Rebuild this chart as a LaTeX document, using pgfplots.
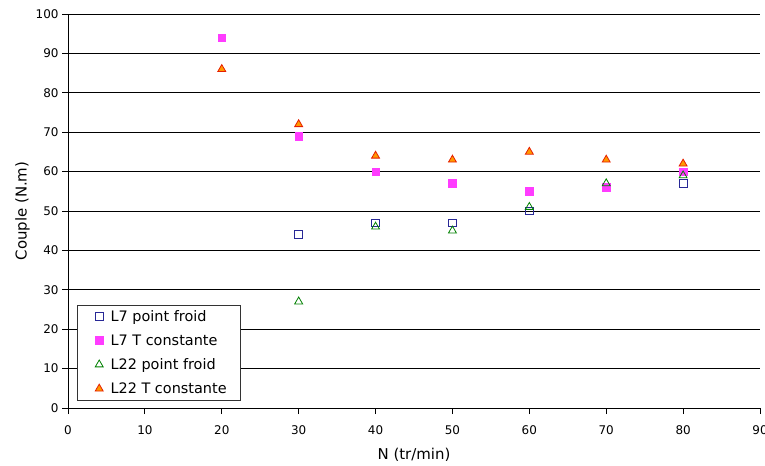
\documentclass[border=0pt]{standalone}
\usepackage{fontspec}
\setmainfont{DejaVu Sans}
\usepackage{pgfplots}
\pgfplotsset{compat=1.18}
\definecolor{cblue}{RGB}{40,40,150}
\definecolor{cpink}{RGB}{255,60,255}
\definecolor{cgreen}{RGB}{0,128,0}
\definecolor{corange}{RGB}{255,153,0}
\definecolor{cred}{RGB}{230,30,0}
\pgfplotsset{mylegimg/.style={legend image code/.code={\path[draw=none,fill=none] (0cm,-0.1cm) rectangle (0.68cm,0.1cm); \draw[mark repeat=2,mark phase=2,##1] plot coordinates {(0cm,0cm)(0.35cm,0cm)(0.68cm,0cm)};}}}
\begin{document}
\begin{tikzpicture}
\begin{axis}[
  scale only axis, width=692bp, height=394bp,
  xmin=0, xmax=90, ymin=0, ymax=100,
  xtick={0,10,...,90}, ytick={0,10,...,100},
  axis x line*=bottom, axis y line*=left,
  axis line style={black, line width=0.8pt, -},
  ymajorgrids, grid style={black, line width=0.7pt},
  tick align=outside, major tick length=6bp,
  tick style={black, line width=0.8pt},
  ticklabel style={font=\fontsize{12}{14}\selectfont},
  xticklabel style={yshift=-8bp},
  /pgf/number format/assume math mode=true,
  xlabel={N (tr/min)}, ylabel={Couple (N.m)},
  label style={font=\fontsize{15}{17}\selectfont},
  xlabel style={yshift=-7bp},
  ylabel style={yshift=-1bp},
  legend style={at={(rel axis cs:0.013,0.02)}, anchor=south west,
    draw=black!80, line width=0.6pt, font=\fontsize{14.5}{17}\selectfont,
    inner xsep=12bp, inner ysep=3bp, row sep=7.8bp},
  legend cell align=left,
]
\addplot[only marks, mylegimg, mark=square, mark size=3.8pt, mark options={draw=cblue, line width=0.8pt}]
 coordinates {(30,44) (40,47) (50,47) (60,50) (70,56) (80,57)};
\addlegendentry{L7 point froid}
\addplot[only marks, mylegimg, mark=square*, mark size=3.8pt, mark options={draw=cpink, fill=cpink}]
 coordinates {(20,94) (30,69) (40,60) (50,57) (60,55) (70,56) (80,60)};
\addlegendentry{L7 T constante}
\addplot[only marks, mylegimg, mark=triangle, mark size=4.6pt, mark options={draw=cgreen, line width=0.8pt}]
 coordinates {(30,27) (40,46) (50,45) (60,51) (70,57) (80,59)};
\addlegendentry{L22 point froid}
\addplot[only marks, mylegimg, mark=triangle*, mark size=4.6pt, mark options={draw=cred, fill=corange, line width=0.8pt}]
 coordinates {(20,86) (30,72) (40,64) (50,63) (60,65) (70,63) (80,62)};
\addlegendentry{L22 T constante}
\end{axis}
\pgfresetboundingbox
\path ([xshift=-68bp,yshift=-57bp]current axis.south west) rectangle ([xshift=5bp,yshift=14bp]current axis.north east);
\end{tikzpicture}
\end{document}
